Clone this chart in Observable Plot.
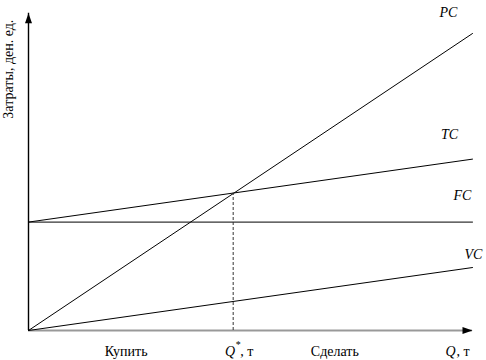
<!DOCTYPE html>
<html>
<head>
<meta charset="utf-8">
<script src="https://cdn.jsdelivr.net/npm/d3@7"></script>
<script src="https://cdn.jsdelivr.net/npm/@observablehq/plot@0.6"></script>
<style>
  html, body { margin: 0; padding: 0; background: #fff; }
  svg text { font-family: "Liberation Serif", "Times New Roman", "DejaVu Serif", serif !important; }
</style>
</head>
<body>
<div id="chart"></div>
<script>
// ---- data (arbitrary units) ----
const Q = [0, 10];
const PC = [0, 10];
const FC = [3.65, 3.65];
const VC = [0, 2.12];
const TC = [3.65, 5.77];
const curveNames = ["PC", "TC", "FC", "VC"];
const Qstar = 4.61;
const yAxisTop = 10.68;
const regionLabels = ["Купить", "Сделать"];
const regionQ = [2.2, 6.9];
const yTitle = "Затраты, ден. ед.";
const xUnit = ", т";

const series = {PC, TC, FC, VC};
const rows = [];
for (const name of curveNames) {
  Q.forEach((q, i) => rows.push({name, q, c: series[name][i]}));
}
const tcAtStar = TC[0] + (TC[1] - TC[0]) * (Qstar - Q[0]) / (Q[1] - Q[0]);
const ends = Object.fromEntries(curveNames.map(n => [n, series[n][series[n].length - 1]]));

// arrowhead symbol (tip at origin, pointing up)
const arrowHead = {
  draw(ctx) {
    ctx.moveTo(0, 0);
    ctx.lineTo(-3.5, 10);
    ctx.lineTo(3.5, 10);
    ctx.closePath();
  }
};

const serif = "Liberation Serif, Times New Roman, serif";
const labelOffsets = {PC: [-24, -21], TC: [-23, -25], FC: [-10, -27], VC: [1, -13]};
const T = {fill: "#000", fontFamily: serif, fontSize: 14};

const chart = Plot.plot({
  width: 486,
  height: 360,
  marginLeft: 28,
  marginRight: 14,
  marginTop: 33,
  marginBottom: 30,
  x: {domain: [0, 10], axis: null},
  y: {domain: [0, 10], axis: null},
  style: {background: "#fff", color: "#000", overflow: "visible"},
  marks: [
    // x axis (grey) with arrow
    Plot.ruleY([0], {x1: 0, x2: Q[1], stroke: "#999", strokeWidth: 2}),
    Plot.dot([{q: Q[1], c: 0}], {x: "q", y: "c", symbol: arrowHead, fill: "#000", stroke: null, rotate: 90}),
    // y axis with arrow
    Plot.ruleX([0], {y1: 0, y2: yAxisTop, stroke: "#000", strokeWidth: 1.4}),
    Plot.dot([{q: 0, c: yAxisTop}], {x: "q", y: "c", symbol: arrowHead, fill: "#000", stroke: null}),
    // curves
    Plot.line(rows, {x: "q", y: "c", z: "name", stroke: "#000", strokeWidth: 1}),
    // Q* dashed line
    Plot.ruleX([Qstar], {y1: 0, y2: tcAtStar, stroke: "#333", strokeWidth: 1, strokeDasharray: "3,2"}),
    // curve labels
    ...curveNames.map(n => Plot.text([n], {
      ...T, x: Q[1], y: ends[n], text: d => d,
      dx: labelOffsets[n][0], dy: labelOffsets[n][1],
      fontStyle: "italic", textAnchor: "middle"
    })),
    // region labels under x axis
    Plot.text(regionLabels, {...T, x: (d, i) => regionQ[i], y: 0, text: d => d, dy: 21, textAnchor: "middle"}),
    // Q*, т
    Plot.text(["Q"], {...T, x: Qstar, y: 0, text: d => d, dx: -3, dy: 21, fontStyle: "italic", textAnchor: "middle"}),
    Plot.text(["*"], {...T, x: Qstar, y: 0, text: d => d, dx: 5, dy: 14, fontSize: 10, textAnchor: "middle"}),
    Plot.text([xUnit], {...T, x: Qstar, y: 0, text: d => d, dx: 7, dy: 21, textAnchor: "start"}),
    // Q, т
    Plot.text(["Q"], {...T, x: Q[1], y: 0, text: d => d, dx: -27, dy: 21, fontStyle: "italic", textAnchor: "start"}),
    Plot.text([xUnit], {...T, x: Q[1], y: 0, text: d => d, dx: -16, dy: 21, textAnchor: "start"}),
    // y axis title
    Plot.text([yTitle], {...T, x: 0, y: 8.8, text: d => d, dx: -20, rotate: -90, textAnchor: "middle"})
  ]
});
document.getElementById("chart").appendChild(chart);
</script>
</body>
</html>
